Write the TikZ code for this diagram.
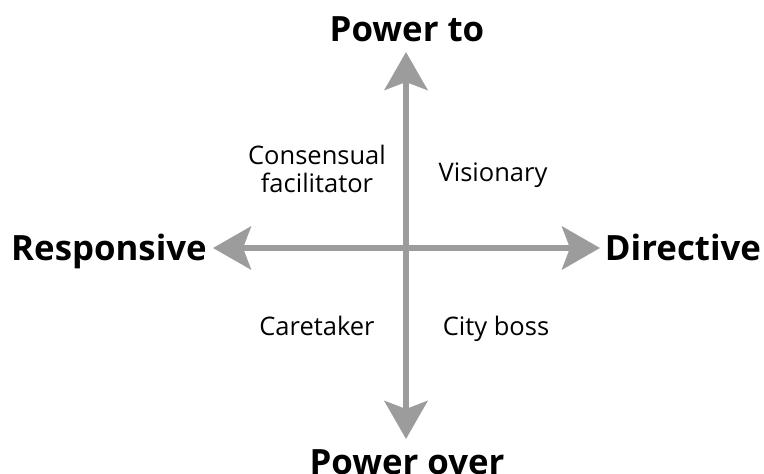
\documentclass[tikz,border=0pt]{standalone}
\usepackage{fontspec}
\setmainfont{Open Sans}
\usetikzlibrary{arrows.meta}
\definecolor{axisgray}{HTML}{9C9C9C}
\tikzset{
  axis/.style={draw=axisgray, line width=6pt,
    arrows={Stealth[length=38pt,width=43pt,inset=8pt]-Stealth[length=38pt,width=43pt,inset=8pt]}},
  axislabel/.style={font=\bfseries\fontsize{34.8}{40}\selectfont, anchor=base, inner sep=0pt},
  quadlabel/.style={font=\fontsize{25.5}{28}\selectfont, anchor=base, inner sep=0pt, align=center}
}
\begin{document}
\begin{tikzpicture}[x=1pt,y=-1pt]
\useasboundingbox (0,0) rectangle (764,474);
\coordinate (top) at (406,52);
\coordinate (bottom) at (406,439);
\coordinate (left) at (213,248);
\coordinate (right) at (600,248);
\draw[axis] (bottom) -- (top);
\draw[axis] (left) -- (right);
\node[axislabel] (powerto) at (407,41) {Power to};
\node[axislabel] (powerover) at (407,474) {Power over};
\node[axislabel] (responsive) at (109,260) {Responsive};
\node[axislabel] (directive) at (683,260) {Directive};
\node[quadlabel] (consensual) at (317,192) {Consensual\\facilitator};
\node[quadlabel] (visionary) at (493,181) {Visionary};
\node[quadlabel] (caretaker) at (317,335) {Caretaker};
\node[quadlabel] (cityboss) at (496,335) {City boss};
\end{tikzpicture}
\end{document}
